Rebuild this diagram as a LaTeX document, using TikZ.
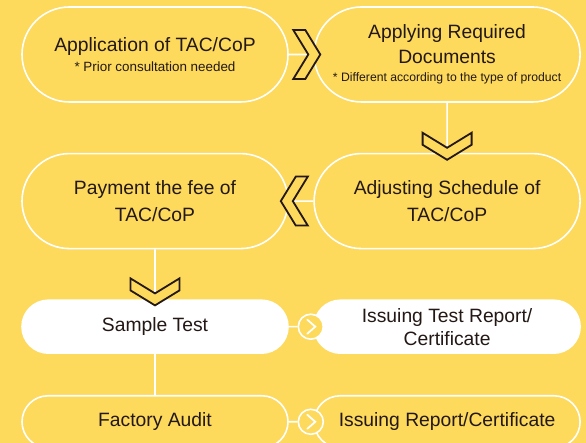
\documentclass[tikz,border=0pt]{standalone}
\usepackage{fontspec}
\setmainfont{Liberation Sans}
\usepackage{tikz}
\usetikzlibrary{shapes.misc,positioning,calc}
\definecolor{bgyellow}{RGB}{253,217,92}
\definecolor{inkdark}{RGB}{35,24,21}
\newcommand{\mainsize}{\fontsize{19.3}{24}\selectfont}
\newcommand{\notetxt}[2]{{\fontsize{#1}{16}\selectfont #2}}
\tikzstyle{pill} = [rounded rectangle, draw=white, line width=1.6pt, fill=bgyellow, minimum width=266pt, minimum height=95pt, inner sep=0pt, align=center, text=inkdark, font=\mainsize]
\tikzstyle{pill small} = [pill, minimum height=53pt]
\tikzstyle{pill white} = [pill small, fill=white]
\tikzstyle{link} = [draw=white, line width=1.6pt]
\tikzstyle{chevron} = [draw=inkdark, line width=1.8pt, fill=bgyellow, line join=miter]
\tikzstyle{roundel} = [circle, draw=white, line width=1.6pt, fill=bgyellow, minimum size=25pt, inner sep=0pt]
\tikzset{
  chev/.pic={\path[chevron] (-27,-24.5) -- (-15,-24.5) -- (0,0) -- (-15,24.5) -- (-27,24.5) -- (-12,0) -- cycle;},
  nexttick/.pic={\draw[white, line width=1.8pt, line cap=round, line join=miter] (-3.5,7) -- (4.5,0) -- (-3.5,-7);}
}

\begin{document}
\begin{tikzpicture}[x=1pt, y=1pt]
	\fill[bgyellow] (0,0) rectangle (586,443);
	\useasboundingbox (0,0) rectangle (586,443);
	% first row
	\node[pill] (app) at (155,388.5) {Application of TAC/CoP\\[-4pt]\notetxt{13.4}{* Prior consultation needed}};
	\node[pill] (docs) [right=24.5pt of app] {Applying Required\\[1pt]Documents\\[-6pt]\notetxt{12.2}{* Different according to the type of product}};
	% second row
	\node[pill] (pay) [below=50pt of app] {Payment the fee of\\[3pt]TAC/CoP};
	\node[pill] (sched) [below=50pt of docs] {Adjusting Schedule of\\[3pt]TAC/CoP};
	% third and fourth row
	\node[pill white] (sample) [below=50pt of pay] {Sample Test};
	\node[pill white] (testrep) [below=50pt of sched] {Issuing Test Report/\\[-1pt]Certificate};
	\node[pill small, minimum height=52pt] (audit) [below=41pt of sample] {Factory Audit};
	\node[pill small, minimum height=52pt] (rep) [below=41pt of testrep] {Issuing Report/Certificate};
	\node[roundel] (tick1) at ($(testrep.west)+(-2.5,0)$) {};
	\node[roundel] (tick2) at ($(rep.west)+(-2.5,0)$) {};
	\pic at (tick1) {nexttick};
	\pic at (tick2) {nexttick};
	% connectors
	\draw[link] (app) -- (docs);
	\draw[link] (docs) -- (sched);
	\draw[link] (sched) -- (pay);
	\draw[link] (pay) -- (sample);
	\draw[link] (sample) -- (audit);
	\draw[link] (sample) -- (tick1);
	\draw[link] (audit) -- (tick2);
	% chevrons
	\pic at ($(docs.west)+(7,0)$) {chev};
	\pic[rotate=-90] at ($(sched.north)+(0,-7)$) {chev};
	\pic[rotate=180] at ($(pay.east)+(-8,0)$) {chev};
	\pic[rotate=-90] at ($(sample.north)+(0,-6)$) {chev};
\end{tikzpicture}
\end{document}
